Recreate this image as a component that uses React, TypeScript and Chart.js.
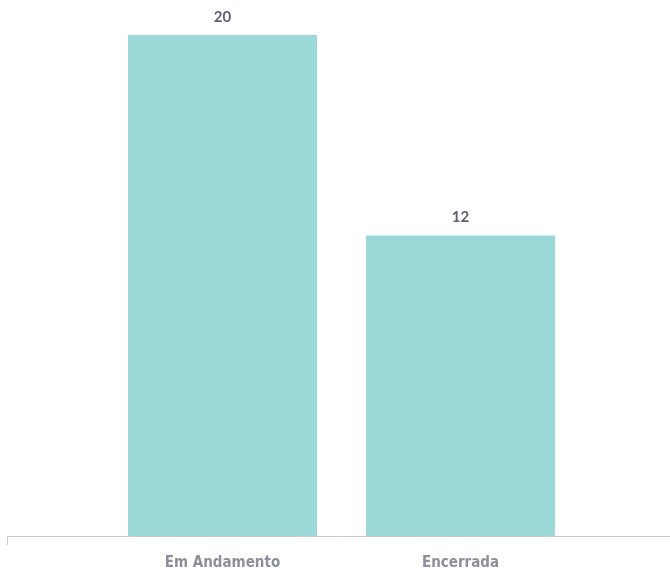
import React, { useEffect, useRef } from "react";
import { Chart, registerables } from "chart.js";

Chart.register(...registerables);

const categories = ["Em Andamento", "Encerrada"];
const values = [20, 12];

const barColor = "#9bdad8";

const overlayPlugin = {
  id: "overlay",
  afterDatasetsDraw(chart: any) {
    const { ctx, chartArea } = chart;
    ctx.save();
    // baseline axis
    ctx.strokeStyle = "#c9cbcf";
    ctx.lineWidth = 1;
    ctx.beginPath();
    ctx.moveTo(7, chartArea.bottom + 0.5);
    ctx.lineTo(chart.width, chartArea.bottom + 0.5);
    ctx.moveTo(7.5, chartArea.bottom);
    ctx.lineTo(7.5, chartArea.bottom + 9);
    ctx.stroke();
    // value labels
    const meta = chart.getDatasetMeta(0);
    ctx.fillStyle = "#5b6172";
    ctx.font = "bold 15px Lato, 'Open Sans', sans-serif";
    ctx.textAlign = "center";
    ctx.textBaseline = "middle";
    meta.data.forEach((bar: any, i: number) => {
      ctx.fillText(String(values[i]), bar.x, bar.y - 18);
    });
    ctx.restore();
  },
};

export default function App() {
  const ref = useRef<HTMLCanvasElement>(null);
  useEffect(() => {
    if (!ref.current) return;
    const chart = new Chart(ref.current, {
      type: "bar",
      data: {
        labels: categories,
        datasets: [
          {
            data: values,
            backgroundColor: barColor,
            borderWidth: 0,
            barPercentage: 0.794,
            categoryPercentage: 1,
          },
        ],
      },
      options: {
        animation: false,
        responsive: false,
        maintainAspectRatio: false,
        layout: { padding: { top: 35, left: 103.5, right: 90.5, bottom: 0 } },
        plugins: {
          legend: { display: false },
          tooltip: { enabled: false },
        },
        scales: {
          x: {
            grid: { display: false },
            border: { display: false },
            afterFit: (scale: any) => {
              scale.height = 35;
            },
            ticks: {
              color: "#8c909b",
              font: { size: 15, weight: "bold", family: "'Liberation Sans Narrow', 'DejaVu Sans Condensed', sans-serif" },
              padding: 10,
            },
          },
          y: {
            display: false,
            min: 0,
            max: 20,
          },
        },
      },
      plugins: [overlayPlugin],
    });
    return () => chart.destroy();
  }, []);
  return (
    <div style={{ position: "fixed", left: 0, top: 0, width: 670, height: 571, background: "#fff" }}>
      <canvas ref={ref} width={670} height={571} />
    </div>
  );
}
